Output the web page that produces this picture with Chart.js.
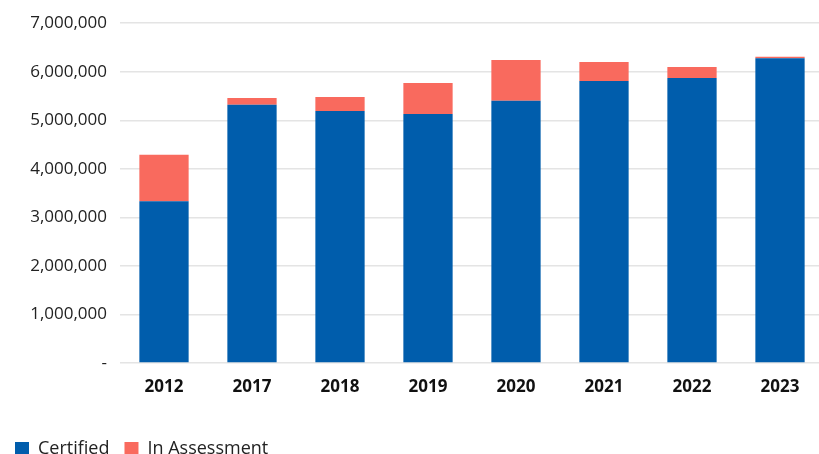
<!DOCTYPE html>
<html>
<head>
<meta charset="utf-8">
<script src="https://cdn.jsdelivr.net/npm/chart.js@4.4.1/dist/chart.umd.min.js"></script>
<style>
  html, body { margin: 0; padding: 0; background: #ffffff; overflow: hidden; }
  #wrap { width: 824px; height: 468px; position: relative; }
</style>
</head>
<body>
<div id="wrap"><canvas id="chart"></canvas></div>
<script>
// Yearly volumes, split into certified and still in assessment
const years = ["2012", "2017", "2018", "2019", "2020", "2021", "2022", "2023"];
const certified = [3330000, 5320000, 5190000, 5130000, 5400000, 5810000, 5870000, 6280000];
const inAssessment = [960000, 140000, 290000, 640000, 840000, 390000, 230000, 30000];
const yTicks = [0, 1000000, 2000000, 3000000, 4000000, 5000000, 6000000, 7000000];

const FONT = "'Open Sans', 'Noto Sans', sans-serif";

function formatTick(v) {
  return v === 0 ? "-" : v.toLocaleString("en-US");
}

new Chart(document.getElementById("chart"), {
  type: "bar",
  data: {
    labels: years,
    datasets: [
      {
        label: "Certified",
        data: certified,
        backgroundColor: "#005DAC",
        barPercentage: 0.56,
        categoryPercentage: 1.0
      },
      {
        label: "In Assessment",
        data: inAssessment,
        backgroundColor: "#F96A5E",
        barPercentage: 0.56,
        categoryPercentage: 1.0
      }
    ]
  },
  options: {
    responsive: true,
    maintainAspectRatio: false,
    animation: false,
    layout: { padding: { top: 22, left: 0, right: 0, bottom: 0 } },
    scales: {
      x: {
        stacked: true,
        grid: { display: false },
        border: { display: false },
        ticks: {
          color: "#111111",
          padding: 6,
          font: { family: FONT, size: 17, weight: "bold" }
        },
        afterFit(scale) { scale.height = 62; }
      },
      y: {
        stacked: true,
        min: 0,
        max: 7000000,
        afterBuildTicks(scale) {
          scale.ticks = yTicks.map(v => ({ value: v }));
        },
        grid: { color: "#e4e4e4", lineWidth: 1.5, drawTicks: false },
        border: { display: false },
        ticks: {
          color: "#222222",
          padding: 13,
          font: { family: FONT, size: 17 },
          callback: (v) => formatTick(v)
        },
        afterFit(scale) { scale.width = 120; }
      }
    },
    plugins: {
      legend: {
        position: "bottom",
        align: "start",
        labels: {
          boxWidth: 14,
          boxHeight: 14,
          padding: 15,
          color: "#222222",
          font: { family: FONT, size: 18 }
        }
      },
      tooltip: { enabled: false }
    }
  }
});
</script>
</body>
</html>
